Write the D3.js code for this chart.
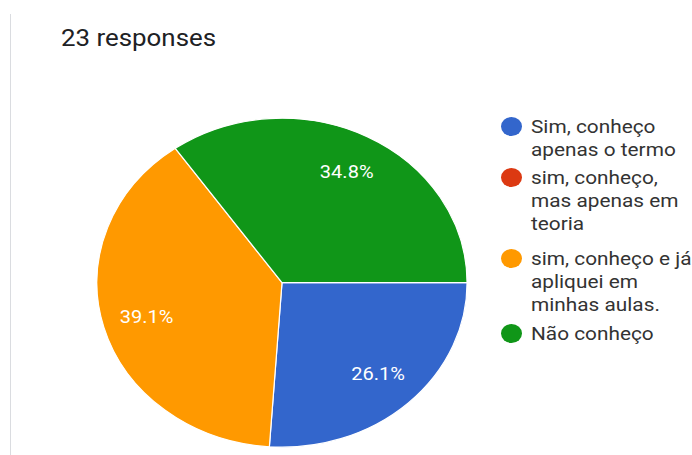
<!DOCTYPE html>
<html>
<head>
<meta charset="utf-8">
<script src="https://cdn.jsdelivr.net/npm/d3@7"></script>
<style>
  html, body { margin: 0; padding: 0; background: #fff; }
  svg { display: block; font-family: Roboto, "Noto Sans", Arial, sans-serif; }
</style>
</head>
<body>
<svg id="chart" width="692" height="455"></svg>
<script>
// Survey answers (23 responses)
const categories = [
  ["Sim, conheço", "apenas o termo"],
  ["sim, conheço,", "mas apenas em", "teoria"],
  ["sim, conheço e já", "apliquei em", "minhas aulas."],
  ["Não conheço"]
];
const counts = [6, 0, 9, 8];
const colors = ["#3366cc", "#dc3912", "#ff9900", "#109618"];
const totalResponses = 23;

// the whole card is drawn with a slight horizontal stretch
const kx = 1.125;

const svg = d3.select("#chart");

// card edge on the left
svg.append("line")
  .attr("x1", 10.5).attr("x2", 10.5)
  .attr("y1", 14).attr("y2", 455)
  .attr("stroke", "#dadce0").attr("stroke-width", 1);

svg.append("text")
  .attr("transform", `translate(61,46) scale(${kx},1)`)
  .attr("font-size", 23)
  .attr("fill", "#202124")
  .text(`${totalResponses} responses`);

// pie
const cx = 282, cy = 282.7, ry = 164.5;

const pie = d3.pie().sort(null).value(d => d)
  .startAngle(Math.PI / 2).endAngle(Math.PI / 2 + 2 * Math.PI);
const arcs = pie(counts);
const arc = d3.arc().innerRadius(0).outerRadius(ry);
const labelArc = d3.arc().innerRadius(ry * 0.76).outerRadius(ry * 0.76);
const fmt = d3.format(".1%");
const sum = d3.sum(counts);

const g = svg.append("g").attr("transform", `translate(${cx},${cy})`);
g.append("g").attr("transform", `scale(${kx},1)`)
  .selectAll("path")
  .data(arcs.filter(d => d.value > 0))
  .join("path")
  .attr("d", arc)
  .attr("fill", d => colors[d.index])
  .attr("stroke", "#fff")
  .attr("stroke-width", 1.2)
  .attr("vector-effect", "non-scaling-stroke");

g.selectAll("text.pct")
  .data(arcs.filter(d => d.value > 0))
  .join("text")
  .attr("class", "pct")
  .attr("transform", d => {
    const [x, y] = labelArc.centroid(d);
    return `translate(${x * kx},${y}) scale(${kx},1)`;
  })
  .attr("dy", "0.35em")
  .attr("text-anchor", "middle")
  .attr("font-size", 17.8)
  .attr("fill", "#fff")
  .text(d => fmt(d.value / sum));

// legend
const itemTop = [133, 184, 265, 340];
const lineH = 23;
const legend = svg.append("g");
categories.forEach((lines, i) => {
  const item = legend.append("g");
  item.append("ellipse")
    .attr("cx", 511.5).attr("cy", itemTop[i] - 6.5)
    .attr("rx", 10.5).attr("ry", 9.4)
    .attr("fill", colors[i]);
  const t = item.append("text")
    .attr("transform", `translate(531,${itemTop[i]}) scale(${kx},1)`)
    .attr("font-size", 18.5)
    .attr("fill", "#333");
  lines.forEach((s, j) => {
    t.append("tspan").attr("x", 0).attr("y", j * lineH).text(s);
  });
});
</script>
</body>
</html>
